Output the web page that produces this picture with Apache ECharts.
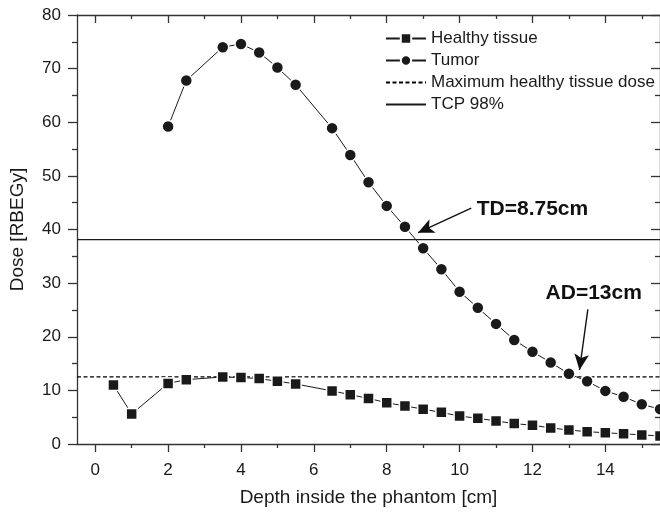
<!DOCTYPE html>
<html><head><meta charset="utf-8">
<script src="https://cdn.jsdelivr.net/npm/echarts@6/dist/echarts.min.js"></script>
<style>html,body{margin:0;padding:0;background:#fff}#c{width:660px;height:512px}</style>
</head><body><div id="c"></div>
<script>
// ---- data ----
const healthyDepth = [0.5,1,2,2.5,3.5,4,4.5,5,5.5,6.5,7,7.5,8,8.5,9,9.5,10,10.5,11,11.5,12,12.5,13,13.5,14,14.5,15,15.5];
const healthyDose  = [11.0,5.6,11.3,12.0,12.5,12.4,12.2,11.7,11.2,9.9,9.2,8.5,7.7,7.1,6.5,5.9,5.2,4.8,4.3,3.8,3.5,3.0,2.6,2.3,2.1,1.9,1.7,1.5];
const tumorDepth   = [2,2.5,3.5,4,4.5,5,5.5,6.5,7,7.5,8,8.5,9,9.5,10,10.5,11,11.5,12,12.5,13,13.5,14,14.5,15,15.5];
const tumorDose    = [59.2,67.8,74.0,74.6,73.0,70.2,67.0,58.9,53.9,48.8,44.4,40.5,36.5,32.6,28.4,25.4,22.4,19.4,17.2,15.2,13.1,11.7,9.9,8.8,7.4,6.5];
const maxHealthyDose = 12.5;
const tcp98 = 38.1;
const seriesNames = ['Healthy tissue','Tumor','Maximum healthy tissue dose','TCP 98%'];
const xRange = [-0.5, 15.5];
const yRange = [0, 80];
const xMajorTicks = [0,2,4,6,8,10,12,14];
const xMinorTicks = [1,3,5,7,9,11,13,15];
const tdLabel = 'TD=8.75cm';
const adLabel = 'AD=13cm';
// annotation anchors in data units
const tdArrow = [[10.32,44.0],[8.86,39.4]];
const adArrow = [[13.52,25.1],[13.29,13.8]];
const tdText = [10.47,43.8];
const adText = [12.36,28.15];

const axisColor = '#333';
const font = 'Liberation Sans, Arial, sans-serif';
const zip = (a,b) => a.map((v,i)=>[v,b[i]]);

const chart = echarts.init(document.getElementById('c'), null, {renderer:'canvas'});
const baseX = {type:'value', min:xRange[0], max:xRange[1], splitLine:{show:false},
  axisLine:{onZero:false, lineStyle:{color:axisColor, width:1.3}}};
const hidden = {color:'rgba(0,0,0,0)', borderWidth:0};
const option = {
  animation:false,
  backgroundColor:'#fff',
  textStyle:{fontFamily:font},
  grid:{left:77, top:15, width:584, height:432},
  legend:{
    orient:'vertical', left:380, top:25, itemWidth:40, itemHeight:13, itemGap:5,
    textStyle:{fontSize:17, color:'#1a1a1a', fontFamily:font, lineHeight:17},
    data:seriesNames
  },
  xAxis:[
    Object.assign({}, baseX, {position:'bottom', name:'Depth inside the phantom [cm]', nameLocation:'middle', nameGap:44,
      nameTextStyle:{fontSize:19, color:'#1a1a1a'},
      axisTick:{customValues:xMajorTicks, length:8, lineStyle:{color:axisColor, width:1.3}},
      axisLabel:{customValues:xMajorTicks, fontSize:17, color:'#1a1a1a', margin:18}}),
    Object.assign({}, baseX, {position:'bottom', axisLine:{show:false, onZero:false},
      axisTick:{customValues:xMinorTicks, length:4, lineStyle:{color:axisColor, width:1.3}},
      axisLabel:{show:false}}),
    Object.assign({}, baseX, {position:'top',
      axisTick:{inside:true, customValues:xMajorTicks, length:8, lineStyle:{color:axisColor, width:1.3}},
      axisLabel:{show:false}}),
    Object.assign({}, baseX, {position:'top', axisLine:{show:false, onZero:false},
      axisTick:{inside:true, customValues:xMinorTicks, length:4, lineStyle:{color:axisColor, width:1.3}},
      axisLabel:{show:false}})
  ],
  yAxis:[
    {type:'value', position:'left', min:yRange[0], max:yRange[1], interval:10, splitLine:{show:false},
     name:'Dose [RBEGy]', nameLocation:'middle', nameGap:50, nameTextStyle:{fontSize:19, color:'#1a1a1a'},
     axisLine:{show:true, onZero:false, lineStyle:{color:axisColor, width:1.3}},
     axisTick:{show:true, length:9, lineStyle:{color:axisColor, width:1.3}},
     minorTick:{show:true, splitNumber:2, length:5, lineStyle:{color:axisColor, width:1.3}},
     axisLabel:{fontSize:17, color:'#1a1a1a', margin:16}},
    {type:'value', position:'right', min:yRange[0], max:yRange[1], interval:10, splitLine:{show:false},
     axisLine:{show:true, onZero:false, lineStyle:{color:axisColor, width:1.3}},
     axisTick:{show:true, inside:true, length:9, lineStyle:{color:axisColor, width:1.3}},
     minorTick:{show:true, splitNumber:2, length:5, lineStyle:{color:axisColor, width:1.3}},
     axisLabel:{show:false}}
  ],
  series:[
    {name:seriesNames[0], type:'line', data:zip(healthyDepth, healthyDose), symbol:'rect', symbolSize:11,
     lineStyle:{color:'#1a1a1a', width:1}, itemStyle:{color:'#1a1a1a', borderColor:'#fff', borderWidth:1.5}, z:5},
    {name:seriesNames[1], type:'line', data:zip(tumorDepth, tumorDose), symbol:'circle', symbolSize:12,
     lineStyle:{color:'#1a1a1a', width:1}, itemStyle:{color:'#1a1a1a', borderColor:'#fff', borderWidth:1.5}, z:5,
     markLine:{silent:true, symbol:['none','arrow'], symbolSize:[11,16], label:{show:false},
       lineStyle:{color:'#111', width:1.4, type:'solid'},
       data:[[{coord:tdArrow[0]},{coord:tdArrow[1]}],[{coord:adArrow[0]},{coord:adArrow[1]}]]},
     markPoint:{silent:true, symbol:'circle', symbolSize:0,
       label:{show:true, position:'right', distance:0, fontSize:21, fontWeight:'bold', color:'#111', fontFamily:font},
       data:[{coord:tdText, value:tdLabel, label:{formatter:tdLabel}},{coord:adText, value:adLabel, label:{formatter:adLabel}}]}},
    {name:seriesNames[2], type:'line', data:[[xRange[0],maxHealthyDose],[xRange[1],maxHealthyDose]], symbol:'none',
     lineStyle:{color:'#000', width:1.3, type:[4,2.5]}, itemStyle:hidden, z:3},
    {name:seriesNames[3], type:'line', data:[[xRange[0],tcp98],[xRange[1],tcp98]], symbol:'none',
     lineStyle:{color:'#1a1a1a', width:1.2}, itemStyle:hidden, z:3}
  ]
};
chart.setOption(option);
</script></body></html>
